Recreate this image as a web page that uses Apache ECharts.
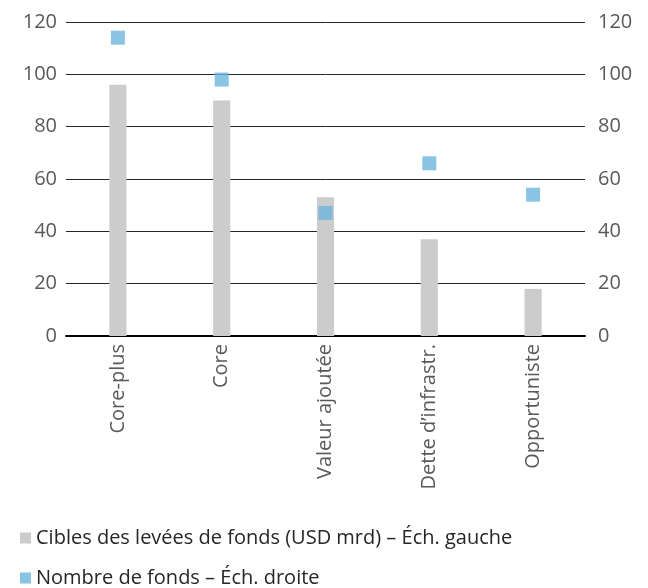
<!DOCTYPE html>
<html><head><meta charset="utf-8">
<script src="https://cdn.jsdelivr.net/npm/echarts@6/dist/echarts.min.js"></script>
<style>html,body{margin:0;padding:0;background:#fff}#c{width:648px;height:588px}</style>
</head><body><div id="c"></div>
<script>
const categories = ['Core-plus', 'Core', 'Valeur ajoutée', 'Dette d\u2019infrastr.', 'Opportuniste'];
const targets = [96, 90, 53, 37, 18];
const fundCounts = [114, 98, 47, 66, 54];
const seriesNames = ['Cibles des levées de fonds (USD mrd) \u2013 Éch. gauche', 'Nombre de fonds \u2013 Éch. droite'];
const FONT = '"Open Sans", "Noto Sans", sans-serif';
const chart = echarts.init(document.getElementById('c'), null, {renderer: 'canvas'});
const yAx = (pos) => ({
  type: 'value', position: pos, min: 0, max: 120, interval: 20,
  axisLine: {show: false}, axisTick: {show: false},
  axisLabel: {color: '#595959', fontSize: 20, fontFamily: FONT, margin: pos === 'left' ? 9 : 13},
  splitLine: {show: pos === 'left', lineStyle: {color: '#262626', width: 1}}
});
const leg = (name, top) => ({
  orient: 'horizontal', left: 15, top: top, itemWidth: 11, itemHeight: 11, icon: 'rect',
  textStyle: {color: '#262626', fontSize: 20, fontFamily: FONT, padding: [0, 0, 0, 0]},
  data: [name]
});
chart.setOption({
  animation: false,
  grid: {left: 66, right: 63, top: 22, bottom: 252},
  legend: [leg(seriesNames[0], 523), leg(seriesNames[1], 563)],
  xAxis: {
    type: 'category', data: categories,
    axisLine: {lineStyle: {color: '#000', width: 2}},
    axisTick: {show: false},
    axisLabel: {rotate: 90, color: '#595959', fontSize: 20, fontFamily: FONT, margin: 8, interval: 0}
  },
  yAxis: [yAx('left'), yAx('right')],
  series: [
    {name: seriesNames[0], type: 'bar', data: targets, barWidth: '16.5%', itemStyle: {color: '#cccccc'}, yAxisIndex: 0},
    {name: seriesNames[1], type: 'scatter', data: fundCounts, symbol: 'rect', symbolSize: 14, itemStyle: {color: '#6db5de'}, yAxisIndex: 1, z: 5}
  ]
});
</script></body></html>
